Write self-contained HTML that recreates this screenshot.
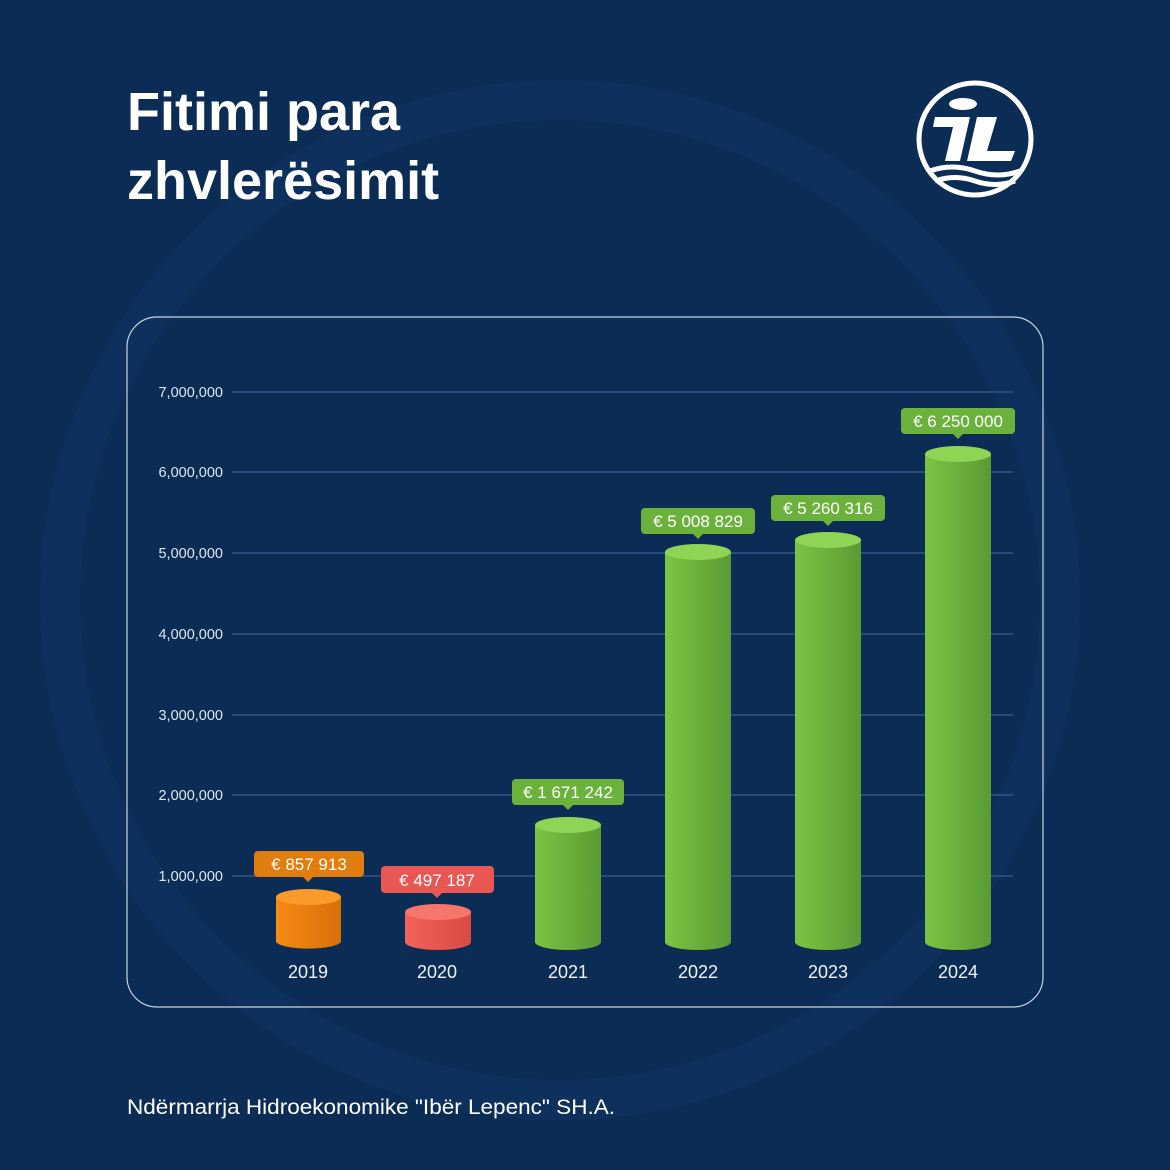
<!DOCTYPE html>
<html><head><meta charset="utf-8"><style>
html,body{margin:0;padding:0;background:#0b2d55;}
svg{display:block}
text{font-family:"Liberation Sans",sans-serif}
</style></head><body>
<svg width="1170" height="1170" viewBox="0 0 1170 1170" xmlns="http://www.w3.org/2000/svg">
<defs>
<linearGradient id="g" x1="0" x2="1"><stop offset="0" stop-color="#7bc443"/><stop offset="1" stop-color="#5a9b34"/></linearGradient>
<linearGradient id="o" x1="0" x2="1"><stop offset="0" stop-color="#f68a12"/><stop offset="1" stop-color="#d8700a"/></linearGradient>
<linearGradient id="r" x1="0" x2="1"><stop offset="0" stop-color="#f2635b"/><stop offset="1" stop-color="#d94a44"/></linearGradient>
</defs>
<rect width="1170" height="1170" fill="#0b2d55"/>
<circle cx="560" cy="600" r="500" fill="none" stroke="#0f3460" stroke-width="40" opacity="0.6"/>
<text x="127" y="130" font-size="54" font-weight="bold" fill="#fff">Fitimi para</text>
<text x="127" y="199" font-size="54" font-weight="bold" fill="#fff">zhvlerësimit</text>
<g transform="translate(975,139)">
<circle r="56" fill="none" stroke="#fff" stroke-width="5"/>
<ellipse cx="-12" cy="-35" rx="14" ry="6" fill="#fff"/>
<polygon points="-40,-22 -5,-22 -15,22 -30,22 -22,-12 -42,-12" fill="#fff"/>
<polygon points="2,-22 22,-22 12,12 40,12 36,22 -8,22" fill="#fff"/>
<path d="M-45,32 q22,-8 45,0 t45,0 M-40,42 q20,-7 40,0 t40,0" stroke="#fff" stroke-width="5" fill="none"/>
</g>
<rect x="127" y="317" width="916" height="690" rx="30" fill="none" stroke="#c8d2dd" stroke-width="1.2"/>
<g stroke="#2e5686" stroke-width="1.5">
<line x1="232" x2="1013" y1="392" y2="392"/><line x1="232" x2="1013" y1="472" y2="472"/>
<line x1="232" x2="1013" y1="553" y2="553"/><line x1="232" x2="1013" y1="634" y2="634"/>
<line x1="232" x2="1013" y1="715" y2="715"/><line x1="232" x2="1013" y1="795" y2="795"/>
<line x1="232" x2="1013" y1="876" y2="876"/>
</g>
<g font-size="14.5" fill="#dfe6ee" text-anchor="end">
<text x="223" y="397">7,000,000</text><text x="223" y="477">6,000,000</text>
<text x="223" y="558">5,000,000</text><text x="223" y="639">4,000,000</text>
<text x="223" y="720">3,000,000</text><text x="223" y="800">2,000,000</text>
<text x="223" y="881">1,000,000</text>
</g>
<g>
<path d="M276,897 V942 A33,8 0 0 0 341,942 V897 Z" fill="url(#o)"/><ellipse cx="308.5" cy="897" rx="32.5" ry="8" fill="#fa9a2a"/>
<path d="M405,912 V942 A33,8 0 0 0 471,942 V912 Z" fill="url(#r)"/><ellipse cx="438" cy="912" rx="33" ry="8" fill="#f6756c"/>
<path d="M535,825 V942 A33,8 0 0 0 601,942 V825 Z" fill="url(#g)"/><ellipse cx="568" cy="825" rx="33" ry="8" fill="#8ed455"/>
<path d="M665,552 V942 A33,8 0 0 0 731,942 V552 Z" fill="url(#g)"/><ellipse cx="698" cy="552" rx="33" ry="8" fill="#8ed455"/>
<path d="M795,540 V942 A33,8 0 0 0 861,942 V540 Z" fill="url(#g)"/><ellipse cx="828" cy="540" rx="33" ry="8" fill="#8ed455"/>
<path d="M925,454 V942 A33,8 0 0 0 991,942 V454 Z" fill="url(#g)"/><ellipse cx="958" cy="454" rx="33" ry="8" fill="#8ed455"/>
</g>
<g font-size="17" fill="#fff" text-anchor="middle">
<rect x="254" y="851" width="110" height="26" rx="4" fill="#e07d0e"/><path d="M303,877 l5,5 l5,-5z" fill="#e07d0e"/><text x="309" y="870">€ 857 913</text>
<rect x="381" y="866" width="113" height="27" rx="4" fill="#e85751"/><path d="M432,893 l5,5 l5,-5z" fill="#e85751"/><text x="437" y="886">€ 497 187</text>
<rect x="512" y="779" width="112" height="26" rx="4" fill="#6bb23c"/><path d="M563,805 l5,5 l5,-5z" fill="#6bb23c"/><text x="568" y="798">€ 1 671 242</text>
<rect x="641" y="508" width="114" height="26" rx="4" fill="#6bb23c"/><path d="M693,534 l5,5 l5,-5z" fill="#6bb23c"/><text x="698" y="527">€ 5 008 829</text>
<rect x="771" y="495" width="114" height="26" rx="4" fill="#6bb23c"/><path d="M823,521 l5,5 l5,-5z" fill="#6bb23c"/><text x="828" y="514">€ 5 260 316</text>
<rect x="901" y="408" width="114" height="26" rx="4" fill="#6bb23c"/><path d="M953,434 l5,5 l5,-5z" fill="#6bb23c"/><text x="958" y="427">€ 6 250 000</text>
</g>
<g font-size="18" fill="#eef2f6" text-anchor="middle">
<text x="308" y="978">2019</text><text x="437" y="978">2020</text><text x="568" y="978">2021</text>
<text x="698" y="978">2022</text><text x="828" y="978">2023</text><text x="958" y="978">2024</text>
</g>
<text x="127" y="1114" font-size="21" fill="#fff" textLength="488" lengthAdjust="spacingAndGlyphs">Ndërmarrja Hidroekonomike "Ibër Lepenc" SH.A.</text>
</svg>
</body></html>
